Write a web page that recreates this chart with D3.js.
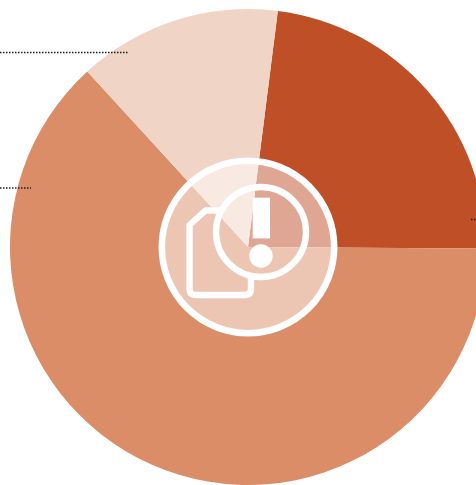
<!DOCTYPE html>
<html>
<head>
<meta charset="utf-8">
<style>
  html, body { margin: 0; padding: 0; background: #fff; overflow: hidden; }
  svg { display: block; }
</style>
<script src="https://cdn.jsdelivr.net/npm/d3@7/dist/d3.min.js"></script>
</head>
<body>
<svg id="chart" width="476" height="485"></svg>
<script>
// Share of each category, in percent, clockwise from the dark slice
const categories = ["A", "B", "C"];
const shares = [23.1, 63.1, 13.8];
const sliceColors = ["#bf4f27", "#da8d67", "#f0d4c5"];

const width = 476, height = 485;
const cx = 248, cy = 247, radius = 238;
const startAngle = 7.2 * Math.PI / 180;

const svg = d3.select("#chart");
const color = d3.scaleOrdinal().domain(categories).range(sliceColors);

const pie = d3.pie()
  .value((d, i) => shares[i])
  .sort(null)
  .startAngle(startAngle)
  .endAngle(startAngle + 2 * Math.PI);
const arc = d3.arc().innerRadius(0).outerRadius(radius);

svg.append("g")
  .attr("transform", `translate(${cx},${cy})`)
  .selectAll("path")
  .data(pie(categories))
  .join("path")
  .attr("d", arc)
  .attr("fill", d => color(d.data));

// Dotted leader lines running off the edge of the canvas
const leaders = [
  { x1: 0, x2: 129, y: 52.5 },
  { x1: 0, x2: 31, y: 188 },
  { x1: 471, x2: 476, y: 219.5 }
];
svg.append("g")
  .selectAll("line")
  .data(leaders)
  .join("line")
  .attr("x1", d => d.x1)
  .attr("x2", d => d.x2)
  .attr("y1", d => d.y)
  .attr("y2", d => d.y)
  .attr("stroke", "#1c1c1c")
  .attr("stroke-width", 1.3)
  .attr("stroke-dasharray", "1.5 1.5");

// Central badge: washed-out disc with a white ring
svg.append("circle")
  .attr("cx", cx).attr("cy", cy).attr("r", 86.2)
  .attr("fill", "rgba(255,255,255,0.5)")
  .attr("stroke", "#fff")
  .attr("stroke-width", 6.6);

// Document outline with a clipped corner
svg.append("path")
  .attr("d", "M222 210.5 H205.5 L189.5 225 V289 Q189.5 295 195.5 295 H245 Q251 295 251 289 V278")
  .attr("fill", "none")
  .attr("stroke", "#fff")
  .attr("stroke-width", 6.4)
  .attr("stroke-linejoin", "round");

// Alert ring with exclamation mark
svg.append("circle")
  .attr("cx", 261).attr("cy", 232).attr("r", 45)
  .attr("fill", "none")
  .attr("stroke", "#fff")
  .attr("stroke-width", 6.4);
svg.append("rect")
  .attr("x", 252.7).attr("y", 197.7)
  .attr("width", 17.3).attr("height", 40.7)
  .attr("fill", "#fff");
svg.append("circle")
  .attr("cx", 261).attr("cy", 256).attr("r", 11.7)
  .attr("fill", "#fff");
</script>
</body>
</html>
